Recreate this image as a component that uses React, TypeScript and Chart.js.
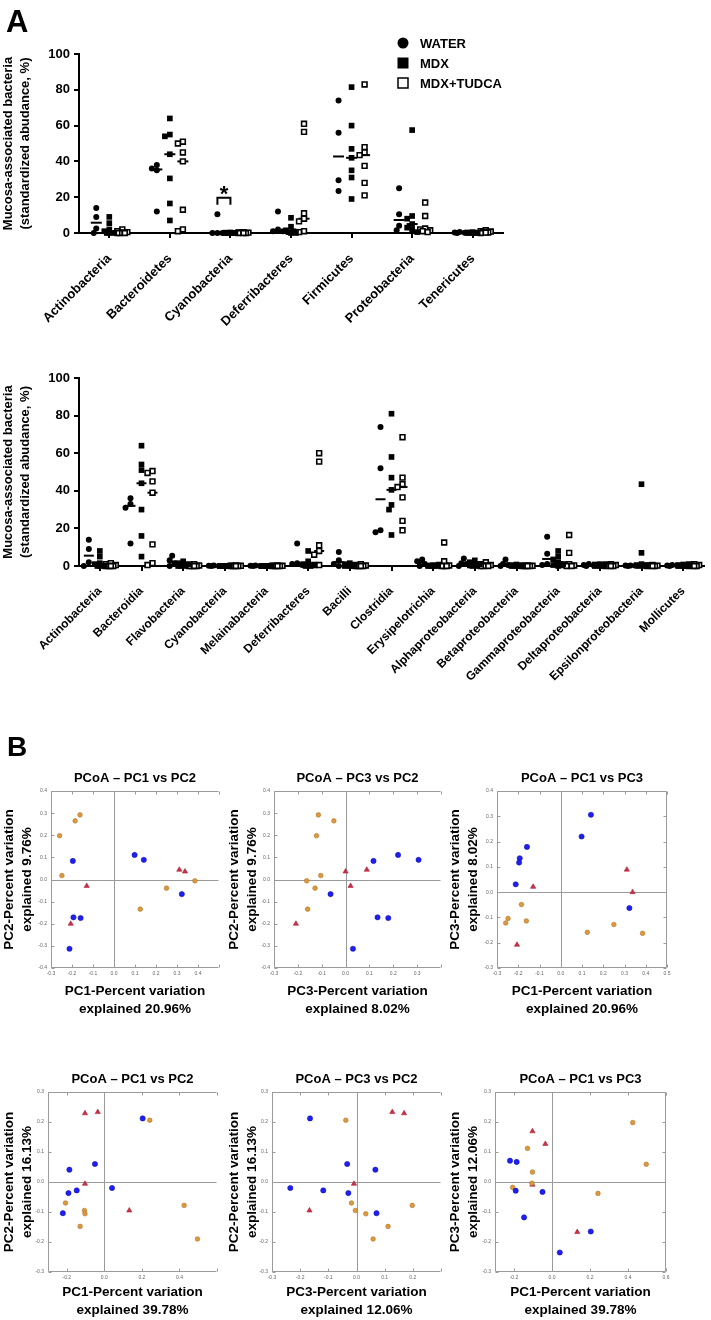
import React, { useEffect, useRef } from 'react';
import { Chart, registerables } from 'chart.js';

Chart.register(...registerables);

const FONT = "'Liberation Sans', Arial, Helvetica, sans-serif";
Chart.defaults.font.family = FONT;
Chart.defaults.color = '#000';

// ---------------- Panel A data ----------------
const GROUPS = ['WATER', 'MDX', 'MDX+TUDCA'];
const Y_TICKS = [0, 20, 40, 60, 80, 100];
const Y_TITLE = ['Mucosa-associated bacteria', '(standardized abudance, %)'];

const PHYLA = ['Actinobacteria', 'Bacteroidetes', 'Cyanobacteria', 'Deferribacteres', 'Firmicutes', 'Proteobacteria', 'Tenericutes'];
const PHYLUM_WATER = [
  [14, 9, 2.5, 0],
  [38, 36, 35, 12],
  [10.5, 0, 0, 0],
  [12, 2, 1, 1],
  [74, 56, 29.5, 23.5],
  [25, 10.5, 4, 1.5],
  [0.5, 0.3, 0.2, 0],
];
const PHYLUM_MDX = [
  [9, 5.5, 2, 1, 0, 0, 0],
  [64, 55, 54, 44, 30.5, 16.5, 7],
  [0.3, 0.2, 0.1, 0, 0, 0, 0],
  [8.5, 3.5, 1.5, 1, 0.5, 0, 0],
  [81.5, 60, 47, 42, 35, 31, 19],
  [57.5, 9.5, 8, 5, 3, 2, 0.5],
  [0.5, 0.3, 0.2, 0.1, 0, 0, 0],
];
const PHYLUM_TUDCA = [
  [2, 1, 0.5, 0.3, 0, 0, 0],
  [51, 50, 45, 40, 13, 2, 1],
  [0.5, 0.3, 0.2, 0.1, 0, 0, 0],
  [61, 56.5, 11, 8, 6.5, 1, 0.5],
  [83, 48, 45, 43.5, 37.5, 28, 21],
  [17, 9.5, 2.5, 2, 1.5, 1, 0.5],
  [1.5, 1, 0.8, 0.5, 0.3, 0.2, 0],
];
const SIGNIFICANCE = [{ category: 'Cyanobacteria', groups: [0, 1], level: 19.7, label: '*' }];

const CLASSES = [
  'Actinobacteria', 'Bacteroidia', 'Flavobacteria', 'Cyanobacteria', 'Melainabacteria',
  'Deferribacteres', 'Bacilli', 'Clostridia', 'Erysipelotrichia', 'Alphaproteobacteria',
  'Betaproteobacteria', 'Gammaproteobacteria', 'Deltaproteobacteria', 'Epsilonproteobacteria', 'Mollicutes',
];
const CLASS_WATER = [
  [14, 9, 2, 0],
  [36, 33, 31, 12],
  [5.5, 3, 1.5, 0],
  [0.2, 0.1, 0, 0],
  [0.2, 0.1, 0, 0],
  [12, 1.5, 1, 0.5],
  [7.5, 3, 1, 0],
  [74, 52, 19, 18],
  [3.5, 2.5, 1, 0],
  [4, 1.5, 1, 0],
  [3.5, 1, 0.5, 0],
  [15.5, 6.5, 1, 0.5],
  [1, 0.5, 0.3, 0],
  [0.3, 0.2, 0.1, 0],
  [0.5, 0.3, 0.2, 0],
];
const CLASS_MDX = [
  [8, 5, 1.5, 1, 0, 0, 0],
  [64, 54, 51, 44, 30, 16, 5],
  [2.5, 1.5, 1, 0.5, 0, 0, 0],
  [0.1, 0.1, 0, 0, 0, 0, 0],
  [0.1, 0.1, 0, 0, 0, 0, 0],
  [8, 2.5, 1, 0.5, 0.3, 0, 0],
  [1.5, 1, 0.5, 0.3, 0, 0, 0],
  [81, 58, 47, 40.5, 32.5, 30, 16.5],
  [0.5, 0.3, 0.2, 0.1, 0, 0, 0],
  [3, 2, 1, 0.5, 0.3, 0, 0],
  [0.8, 0.5, 0.3, 0.1, 0, 0, 0],
  [8, 5, 3.5, 2, 1, 0.5, 0],
  [1, 0.8, 0.5, 0.3, 0, 0, 0],
  [43.5, 7, 1, 0.5, 0.3, 0, 0],
  [0.8, 0.5, 0.3, 0.1, 0, 0, 0],
];
const CLASS_TUDCA = [
  [1.5, 1, 0.5, 0, 0, 0, 0],
  [50.5, 49.5, 45, 39, 11.5, 1.5, 0.5],
  [1, 0.5, 0.3, 0, 0, 0, 0],
  [0.3, 0.2, 0.1, 0, 0, 0, 0],
  [0.3, 0.2, 0.1, 0, 0, 0, 0],
  [60, 55.5, 11, 8, 6, 0.5, 0.5],
  [1, 0.5, 0.3, 0, 0, 0, 0],
  [68.5, 47, 43.5, 42, 36.5, 24, 19],
  [12.5, 2.5, 0.5, 0.3, 0, 0, 0],
  [2, 1, 0.5, 0.3, 0, 0, 0],
  [0.3, 0.2, 0.1, 0, 0, 0, 0],
  [16.5, 7, 1, 0.5, 0.3, 0, 0],
  [1, 0.8, 0.5, 0.3, 0, 0, 0],
  [0.5, 0.3, 0.2, 0.1, 0, 0, 0],
  [1, 0.8, 0.5, 0.3, 0, 0, 0],
];

// ---------------- Panel B data (PCoA) ----------------
// each array: [blue group, orange group, red group]
const R1_VARIATION = ['20.96%', '9.76%', '8.02%'];
const R1_PC1 = [
  [-0.196, 0.098, 0.142, 0.323, -0.193, -0.159, -0.212],
  [-0.259, -0.185, -0.162, -0.248, 0.25, 0.125, 0.385],
  [-0.13, -0.206, 0.311, 0.338],
];
const R1_PC2 = [
  [0.084, 0.111, 0.089, -0.066, -0.171, -0.174, -0.313],
  [0.198, 0.265, 0.292, 0.018, -0.039, -0.134, -0.006],
  [-0.029, -0.2, 0.044, 0.036],
];
const R1_PC3 = [
  [0.117, 0.22, 0.306, -0.063, 0.134, 0.179, 0.031],
  [-0.122, -0.049, -0.114, -0.104, -0.128, -0.159, -0.163],
  [0.021, -0.208, 0.089, 0.0],
];
const R2_VARIATION = ['39.78%', '16.13%', '12.06%'];
const R2_PC1 = [
  [0.204, -0.186, -0.05, 0.041, -0.147, -0.191, -0.221],
  [0.242, -0.207, -0.106, -0.103, -0.129, 0.425, 0.496],
  [-0.103, -0.035, -0.103, 0.133],
];
const R2_PC2 = [
  [0.212, 0.041, 0.06, -0.02, -0.028, -0.037, -0.104],
  [0.206, -0.07, -0.095, -0.106, -0.148, -0.078, -0.19],
  [0.229, 0.233, -0.006, -0.095],
];
const R2_PC3 = [
  [-0.165, 0.067, -0.033, -0.235, -0.118, -0.029, 0.071],
  [-0.038, -0.018, -0.004, 0.033, 0.112, 0.198, 0.059],
  [0.169, 0.127, -0.009, -0.167],
];

const PCOA_STYLES = [
  { shape: 'circle', r: 2.6, fill: '#1f1ff0', stroke: '#1010c0' },
  { shape: 'circle', r: 2.3, fill: '#dc9a3c', stroke: '#b0722a' },
  { shape: 'triangle', r: 3, fill: '#cc3048', stroke: '#a82238' },
];

// ---------------- helpers ----------------
function median(a: number[]) {
  const s = [...a].sort((p, q) => p - q);
  const n = s.length;
  return n % 2 ? s[(n - 1) / 2] : (s[n / 2 - 1] + s[n / 2]) / 2;
}

// simple beeswarm: horizontal pixel offsets so markers don't sit on each other
function swarmOffsets(values: number[], yPx: number): number[] {
  const cand = [0, -2.5, 2.5, -5, 5];
  const placed: { y: number; dx: number }[] = [];
  const order = values.map((_, i) => i).sort((a, b) => values[b] - values[a]);
  const out = new Array(values.length).fill(0);
  for (const i of order) {
    const y = values[i] * yPx;
    let best = 0;
    let bestD = -1;
    for (const c of cand) {
      let minD = Infinity;
      for (const p of placed) {
        const d = Math.hypot(c - p.dx, y - p.y);
        if (d < minD) minD = d;
      }
      if (minD >= 5) { best = c; break; }
      if (minD > bestD) { bestD = minD; best = c; }
    }
    placed.push({ y, dx: best });
    out[i] = best;
  }
  return out;
}

function range(a: number, b: number, step: number) {
  const out: number[] = [];
  const n = Math.round((b - a) / step);
  for (let i = 0; i <= n; i++) out.push(Math.round((a + i * step) * 1000) / 1000);
  return out;
}

// ---------------- plugins ----------------
function legendPlugin(dx: number, dy: number, gap: number) {
  return {
    id: 'groupLegend',
    afterDraw(chart: any) {
      const { ctx, chartArea } = chart;
      ctx.save();
      GROUPS.forEach((name, i) => {
        const cx = chartArea.left + dx;
        const cy = chartArea.top + dy + i * gap;
        ctx.fillStyle = '#000';
        ctx.strokeStyle = '#000';
        if (i === 0) {
          ctx.beginPath();
          ctx.arc(cx, cy, 5.5, 0, Math.PI * 2);
          ctx.fill();
        } else if (i === 1) {
          ctx.fillRect(cx - 5.5, cy - 5.5, 11, 11);
        } else {
          ctx.lineWidth = 1.5;
          ctx.fillStyle = '#fff';
          ctx.fillRect(cx - 5, cy - 5, 10, 10);
          ctx.strokeRect(cx - 5, cy - 5, 10, 10);
        }
        ctx.fillStyle = '#000';
        ctx.font = `bold 13px ${FONT}`;
        ctx.textAlign = 'left';
        ctx.textBaseline = 'middle';
        ctx.fillText(name, cx + 17, cy + 1);
      });
      ctx.restore();
    },
  };
}

function sigPlugin(cats: string[], offsets: number[]) {
  return {
    id: 'sigBracket',
    afterDatasetsDraw(chart: any) {
      const { ctx, scales } = chart;
      const x = scales.x;
      const y = scales.y;
      SIGNIFICANCE.forEach((s) => {
        const ci = cats.indexOf(s.category);
        if (ci < 0) return;
        const x1 = x.getPixelForValue(ci + offsets[s.groups[0]]);
        const x2 = x.getPixelForValue(ci + offsets[s.groups[1]]);
        const yt = y.getPixelForValue(s.level);
        ctx.save();
        ctx.lineWidth = 2;
        ctx.strokeStyle = '#000';
        ctx.beginPath();
        ctx.moveTo(x1, yt + 7);
        ctx.lineTo(x1, yt);
        ctx.lineTo(x2, yt);
        ctx.lineTo(x2, yt + 7);
        ctx.stroke();
        ctx.fillStyle = '#000';
        ctx.font = `bold 22px ${FONT}`;
        ctx.textAlign = 'center';
        ctx.textBaseline = 'alphabetic';
        ctx.fillText(s.label, (x1 + x2) / 2, yt + 3);
        ctx.restore();
      });
    },
  };
}

function pcoaFrame(title: string, openRight: boolean) {
  return {
    id: 'pcoaFrame',
    beforeDatasetsDraw(chart: any) {
      const { ctx, chartArea: a, scales } = chart;
      const x = scales.x;
      const y = scales.y;
      const L = Math.round(a.left) + 0.5;
      const R = Math.round(a.right) - 0.5;
      const T = Math.round(a.top) + 0.5;
      const B = Math.round(a.bottom) - 0.5;
      ctx.save();
      ctx.strokeStyle = '#9a9a9a';
      ctx.lineWidth = 1;
      ctx.beginPath();
      ctx.moveTo(R, T);
      ctx.lineTo(L, T);
      ctx.lineTo(L, B);
      ctx.lineTo(R, B);
      if (!openRight) ctx.lineTo(R, T);
      const zx = Math.round(x.getPixelForValue(0)) + 0.5;
      const zy = Math.round(y.getPixelForValue(0)) + 0.5;
      ctx.moveTo(zx, T);
      ctx.lineTo(zx, B);
      ctx.moveTo(L, zy);
      ctx.lineTo(R, zy);
      x.ticks.forEach((t: any) => {
        const px = Math.round(x.getPixelForValue(t.value)) + 0.5;
        ctx.moveTo(px, T);
        ctx.lineTo(px, T + 3);
        ctx.moveTo(px, B);
        ctx.lineTo(px, B - 3);
      });
      y.ticks.forEach((t: any) => {
        const py = Math.round(y.getPixelForValue(t.value)) + 0.5;
        ctx.moveTo(L, py);
        ctx.lineTo(L + 3, py);
        if (!openRight) {
          ctx.moveTo(R, py);
          ctx.lineTo(R - 3, py);
        }
      });
      ctx.stroke();
      ctx.fillStyle = '#000';
      ctx.font = `bold 13px ${FONT}`;
      ctx.textAlign = 'center';
      ctx.textBaseline = 'middle';
      ctx.fillText(title, (a.left + a.right) / 2, a.top - 13);
      ctx.restore();
    },
  };
}

// ---------------- configs ----------------
type DotSpec = {
  cats: string[];
  series: number[][][];
  groupOffset: number;
  catPx: number;
  yPx: number;
  padTop: number;
  padRight: number;
  yWidth: number;
  xHeight: number;
  labelSize: number;
  medianHalf: number;
  legend: boolean;
  sig: boolean;
};

function dotConfig(s: DotSpec) {
  const offsets = [-s.groupOffset, 0, s.groupOffset];
  const points = s.series.map((ser, g) =>
    ser.flatMap((vals, ci) => {
      const dx = swarmOffsets(vals, s.yPx);
      return vals.map((v, k) => ({ x: ci + offsets[g] + dx[k] / s.catPx, y: v }));
    })
  );
  const medians = s.series.map((ser, g) => ser.map((vals, ci) => ({ x: ci + offsets[g], y: median(vals) })));
  const styles = [
    { pointStyle: 'circle', pointRadius: 3, backgroundColor: '#000', borderColor: '#000', borderWidth: 0 },
    { pointStyle: 'rect', pointRadius: 4, backgroundColor: '#000', borderColor: '#000', borderWidth: 0 },
    { pointStyle: 'rect', pointRadius: 3.4, backgroundColor: '#fff', borderColor: '#000', borderWidth: 1.6 },
  ];
  const datasets: any[] = points.map((data, g) => ({ label: GROUPS[g], data, clip: false, ...styles[g] }));
  medians.forEach((data, g) =>
    datasets.push({
      label: GROUPS[g] + ' median',
      data,
      clip: false,
      pointStyle: 'line',
      pointRadius: s.medianHalf,
      borderColor: '#000',
      borderWidth: 2,
    })
  );
  const plugins: any[] = [];
  if (s.legend) plugins.push(legendPlugin(324, -11, 20));
  if (s.sig) plugins.push(sigPlugin(s.cats, offsets));
  const axisGrid = { display: true, drawOnChartArea: false, drawTicks: true, tickLength: 5, color: '#000', lineWidth: 2 };
  return {
    type: 'scatter',
    data: { datasets },
    plugins,
    options: {
      responsive: false,
      animation: false,
      devicePixelRatio: 1,
      events: [],
      layout: { padding: { top: s.padTop, right: s.padRight, left: 0, bottom: 0 } },
      plugins: { legend: { display: false }, tooltip: { enabled: false } },
      scales: {
        x: {
          type: 'linear',
          min: -0.5,
          max: s.cats.length - 0.5,
          afterBuildTicks: (ax: any) => { ax.ticks = s.cats.map((_, i) => ({ value: i })); },
          afterFit: (ax: any) => { ax.height = s.xHeight; },
          ticks: {
            autoSkip: false,
            minRotation: 45,
            maxRotation: 45,
            padding: 13,
            color: '#000',
            font: { size: s.labelSize, weight: 'bold' },
            callback: (v: any) => s.cats[Math.round(Number(v))] ?? '',
          },
          grid: axisGrid,
          border: { display: true, color: '#000', width: 2 },
        },
        y: {
          type: 'linear',
          min: 0,
          max: 100,
          afterBuildTicks: (ax: any) => { ax.ticks = Y_TICKS.map((v) => ({ value: v })); },
          afterFit: (ax: any) => { ax.width = s.yWidth; },
          ticks: { padding: 4, color: '#000', font: { size: 13, weight: 'bold' } },
          grid: axisGrid,
          border: { display: true, color: '#000', width: 2 },
          title: {
            display: true,
            text: Y_TITLE,
            color: '#000',
            font: { size: 13, weight: 'bold', lineHeight: 1.3 },
            padding: { top: 0, bottom: 0 },
          },
        },
      },
    },
  };
}

type PcoaSpec = {
  title: string;
  xs: number[][];
  ys: number[][];
  xTitle: string[];
  yTitle: string[];
  xMin: number;
  xMax: number;
  xTicks: number[];
  yMin: number;
  yMax: number;
  yTicks: number[];
  openRight: boolean;
  padTop: number;
  padRight: number;
  yWidth: number;
  xHeight: number;
  xTitlePadBottom: number;
};

function pcoaConfig(c: PcoaSpec) {
  const datasets = PCOA_STYLES.map((st, g) => ({
    label: 'group ' + g,
    data: c.xs[g].map((xv, i) => ({ x: xv, y: c.ys[g][i] })),
    pointStyle: st.shape,
    pointRadius: st.r,
    backgroundColor: st.fill,
    borderColor: st.stroke,
    borderWidth: 0.6,
    clip: false,
  }));
  const lastX = c.xTicks[c.xTicks.length - 1];
  const titleFont = { size: 13.5, weight: 'bold', lineHeight: 1.33 };
  return {
    type: 'scatter',
    data: { datasets },
    plugins: [pcoaFrame(c.title, c.openRight)],
    options: {
      responsive: false,
      animation: false,
      devicePixelRatio: 1,
      events: [],
      layout: { padding: { top: c.padTop, right: c.padRight, left: 0, bottom: 0 } },
      plugins: { legend: { display: false }, tooltip: { enabled: false } },
      scales: {
        x: {
          type: 'linear',
          min: c.xMin,
          max: c.xMax,
          afterBuildTicks: (ax: any) => { ax.ticks = c.xTicks.map((v) => ({ value: v })); },
          afterFit: (ax: any) => { ax.height = c.xHeight; },
          ticks: {
            autoSkip: false,
            minRotation: 0,
            maxRotation: 0,
            padding: 3,
            color: '#666',
            font: { size: 5 },
            callback: (v: any) => (c.openRight && Math.abs(Number(v) - lastX) < 1e-9 ? '' : Number(v).toFixed(1)),
          },
          grid: { display: false, drawTicks: false },
          border: { display: false },
          title: { display: true, text: c.xTitle, color: '#000', font: titleFont, padding: { top: 0, bottom: c.xTitlePadBottom } },
        },
        y: {
          type: 'linear',
          min: c.yMin,
          max: c.yMax,
          afterBuildTicks: (ax: any) => { ax.ticks = c.yTicks.map((v) => ({ value: v })); },
          afterFit: (ax: any) => { ax.width = c.yWidth; },
          ticks: { padding: 4, color: '#666', font: { size: 5 }, callback: (v: any) => Number(v).toFixed(1) },
          grid: { display: false, drawTicks: false },
          border: { display: false },
          title: { display: true, text: c.yTitle, color: '#000', font: titleFont, padding: { top: 0, bottom: 0 } },
        },
      },
    },
  };
}

// ---------------- components ----------------
function ChartBox({ left, top, width, height, config }: { left: number; top: number; width: number; height: number; config: () => any }) {
  const ref = useRef<HTMLCanvasElement>(null);
  useEffect(() => {
    const chart = new Chart(ref.current as HTMLCanvasElement, config());
    return () => chart.destroy();
  }, []);
  return (
    <canvas
      ref={ref}
      width={width}
      height={height}
      style={{ position: 'absolute', left, top, width, height, display: 'block' }}
    />
  );
}

function pcTitle(pc: string, v: string) {
  return [`${pc}-Percent variation`, `explained ${v}`];
}

export default function App() {
  const r1Y = range(-0.4, 0.4, 0.1);
  const r2Y = range(-0.3, 0.3, 0.1);
  const pcoa: { left: number; top: number; width: number; spec: PcoaSpec }[] = [
    {
      left: 0, top: 760, width: 225,
      spec: {
        title: 'PCoA – PC1 vs PC2', xs: R1_PC1, ys: R1_PC2,
        xTitle: pcTitle('PC1', R1_VARIATION[0]), yTitle: pcTitle('PC2', R1_VARIATION[1]),
        xMin: -0.3, xMax: 0.5, xTicks: range(-0.3, 0.5, 0.1), yMin: -0.4, yMax: 0.4, yTicks: r1Y,
        openRight: true, padTop: 31, padRight: 6, yWidth: 51, xHeight: 52, xTitlePadBottom: 2,
      },
    },
    {
      left: 225, top: 760, width: 225,
      spec: {
        title: 'PCoA – PC3 vs PC2', xs: R1_PC3, ys: R1_PC2,
        xTitle: pcTitle('PC3', R1_VARIATION[2]), yTitle: pcTitle('PC2', R1_VARIATION[1]),
        xMin: -0.3, xMax: 0.4, xTicks: range(-0.3, 0.4, 0.1), yMin: -0.4, yMax: 0.4, yTicks: r1Y,
        openRight: true, padTop: 31, padRight: 9, yWidth: 49, xHeight: 52, xTitlePadBottom: 2,
      },
    },
    {
      left: 446, top: 760, width: 229,
      spec: {
        title: 'PCoA – PC1 vs PC3', xs: R1_PC1, ys: R1_PC3,
        xTitle: pcTitle('PC1', R1_VARIATION[0]), yTitle: pcTitle('PC3', R1_VARIATION[2]),
        xMin: -0.3, xMax: 0.5, xTicks: range(-0.3, 0.5, 0.1), yMin: -0.3, yMax: 0.4, yTicks: range(-0.3, 0.4, 0.1),
        openRight: false, padTop: 31, padRight: 8, yWidth: 51, xHeight: 52, xTitlePadBottom: 2,
      },
    },
    {
      left: 0, top: 1060, width: 225,
      spec: {
        title: 'PCoA – PC1 vs PC2', xs: R2_PC1, ys: R2_PC2,
        xTitle: pcTitle('PC1', R2_VARIATION[0]), yTitle: pcTitle('PC2', R2_VARIATION[1]),
        xMin: -0.3, xMax: 0.6, xTicks: range(-0.2, 0.6, 0.2), yMin: -0.3, yMax: 0.3, yTicks: r2Y,
        openRight: true, padTop: 32, padRight: 8, yWidth: 48, xHeight: 48, xTitlePadBottom: 1,
      },
    },
    {
      left: 225, top: 1060, width: 225,
      spec: {
        title: 'PCoA – PC3 vs PC2', xs: R2_PC3, ys: R2_PC2,
        xTitle: pcTitle('PC3', R2_VARIATION[2]), yTitle: pcTitle('PC2', R2_VARIATION[1]),
        xMin: -0.3, xMax: 0.3, xTicks: range(-0.3, 0.3, 0.1), yMin: -0.3, yMax: 0.3, yTicks: r2Y,
        openRight: true, padTop: 32, padRight: 9, yWidth: 47, xHeight: 48, xTitlePadBottom: 1,
      },
    },
    {
      left: 446, top: 1060, width: 229,
      spec: {
        title: 'PCoA – PC1 vs PC3', xs: R2_PC1, ys: R2_PC3,
        xTitle: pcTitle('PC1', R2_VARIATION[0]), yTitle: pcTitle('PC3', R2_VARIATION[2]),
        xMin: -0.3, xMax: 0.6, xTicks: range(-0.2, 0.6, 0.2), yMin: -0.3, yMax: 0.3, yTicks: r2Y,
        openRight: false, padTop: 32, padRight: 9, yWidth: 49, xHeight: 48, xTitlePadBottom: 1,
      },
    },
  ];

  const letter = (text: string, left: number, top: number, size: number) => (
    <div
      style={{
        position: 'absolute', left, top, fontFamily: FONT, fontWeight: 'bold',
        fontSize: size, lineHeight: 1, color: '#000',
      }}
    >
      {text}
    </div>
  );

  return (
    <div style={{ position: 'absolute', left: 0, top: 0, width: 711, height: 1320, background: '#fff', overflow: 'hidden' }}>
      <ChartBox
        left={0} top={30} width={520} height={320}
        config={() => dotConfig({
          cats: PHYLA, series: [PHYLUM_WATER, PHYLUM_MDX, PHYLUM_TUDCA], groupOffset: 0.215, catPx: 60.6, yPx: 1.79,
          padTop: 24, padRight: 17, yWidth: 79, xHeight: 117, labelSize: 13, medianHalf: 5.5, legend: true, sig: true,
        })}
      />
      <ChartBox
        left={0} top={350} width={711} height={350}
        config={() => dotConfig({
          cats: CLASSES, series: [CLASS_WATER, CLASS_MDX, CLASS_TUDCA], groupOffset: 0.264, catPx: 41.7, yPx: 1.88,
          padTop: 28, padRight: 6, yWidth: 79, xHeight: 134, labelSize: 12, medianHalf: 5, legend: false, sig: false,
        })}
      />
      {pcoa.map((p, i) => (
        <ChartBox key={i} left={p.left} top={p.top} width={p.width} height={260} config={() => pcoaConfig(p.spec)} />
      ))}
      {letter('A', 6, 6, 31)}
      {letter('B', 7, 733, 28)}
    </div>
  );
}
